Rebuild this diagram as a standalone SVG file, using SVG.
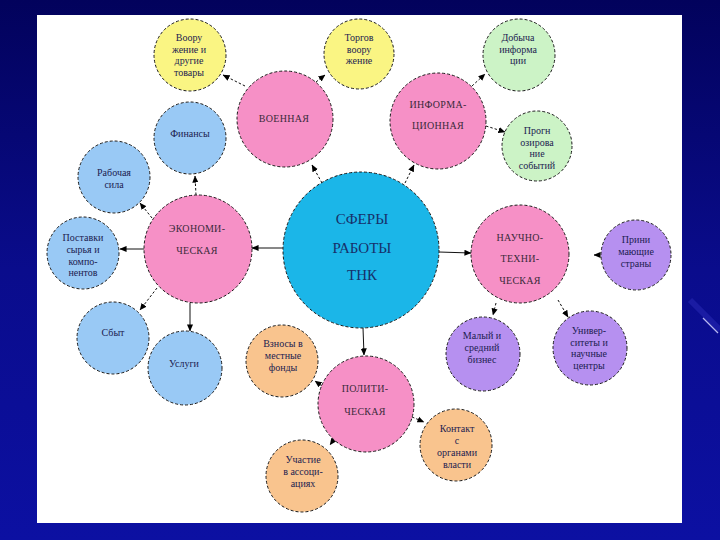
<svg xmlns="http://www.w3.org/2000/svg" width="720" height="540" viewBox="0 0 720 540">
<defs>
<linearGradient id="bg" x1="0" y1="0" x2="0" y2="1">
<stop offset="0" stop-color="#02025c"/>
<stop offset="0.5" stop-color="#0a0c8c"/>
<stop offset="1" stop-color="#0c10a2"/>
</linearGradient>
<marker id="ah" viewBox="0 0 8 8" refX="7.5" refY="4" markerWidth="7" markerHeight="7" markerUnits="userSpaceOnUse" orient="auto">
<path d="M0,0.5 L8,4 L0,7.5 Z" fill="#000"/>
</marker>
<style>
.n{stroke:#1a1a1a;stroke-width:1;stroke-dasharray:3 2}
.pink{fill:#f690c6}.yel{fill:#faf583}.grn{fill:#ccf3c6}.blu{fill:#99c9f5}.org{fill:#f9c48e}.pur{fill:#b690f0}.cen{fill:#1bb6e8}
.t{font-family:"Liberation Serif","Times New Roman",serif;font-size:10px;fill:#1c1c50;text-anchor:middle}
.h{font-family:"Liberation Serif","Times New Roman",serif;font-size:10px;fill:#3a2a3a;text-anchor:middle;letter-spacing:0.3px}
.c{font-family:"Liberation Serif","Times New Roman",serif;font-size:15px;fill:#17306a;text-anchor:middle}
.e{fill:none;stroke:#111;stroke-width:1;marker-end:url(#ah)}
.d{stroke-dasharray:2.5 2}
</style>
</defs>
<rect x="0" y="0" width="720" height="540" fill="url(#bg)"/>
<path d="M690,300 L720,330" stroke="#3a3ac8" stroke-width="6" opacity="0.35" fill="none"/>
<line x1="703" y1="318" x2="718" y2="333" stroke="#b8b8f0" stroke-width="1.2"/>
<rect x="37" y="15" width="645" height="508" fill="#ffffff"/>

<g id="connectors">
<path class="e d" d="M322,183 L312,165"/>
<path class="e d" d="M405,183 L414,165"/>
<path class="e d" d="M245,86 L223,75"/>
<path class="e d" d="M316,82 L325,75"/>
<path class="e d" d="M472,86 L485,74"/>
<path class="e d" d="M486,126 L505,132"/>
<path class="e d" d="M196,195 L195,176"/>
<path class="e d" d="M152,218 L140,203"/>
<path class="e d" d="M157,288 L140,310"/>
<path class="e d" d="M322,386 L315,381"/>
<path class="e d" d="M412,417 L424,422"/>
<path class="e d" d="M335,438 L330,445"/>
<path class="e d" d="M496,303 L493,315"/>
<path class="e d" d="M558,300 L568,317"/>
<path class="e d" d="M600,255 L594,255"/>
<path class="e" d="M283,248 L252,248"/>
<path class="e" d="M439,252 L471,253"/>
<path class="e" d="M363,328 L364,355"/>
<path class="e" d="M144,249 L120,249"/>
<path class="e" d="M190,303 L190,331"/>
</g>

<g id="center"><circle class="n cen" cx="361" cy="250" r="78"/>
<text class="c" x="362" y="224">СФЕРЫ</text><text class="c" x="362" y="253">РАБОТЫ</text><text class="c" x="362" y="280">ТНК</text></g>

<g id="voen"><circle class="n pink" cx="285" cy="119" r="48"/><text class="h" x="284" y="122">ВОЕННАЯ</text></g>
<g id="inform"><circle class="n pink" cx="438" cy="121" r="48"/><text class="h" x="438" y="108">ИНФОРМА-</text><text class="h" x="438" y="129">ЦИОННАЯ</text></g>
<g id="econ"><circle class="n pink" cx="198" cy="249" r="54"/><text class="h" x="197" y="232">ЭКОНОМИ-</text><text class="h" x="197" y="254">ЧЕСКАЯ</text></g>
<g id="nauch"><circle class="n pink" cx="520" cy="254" r="49"/><text class="h" x="520" y="241">НАУЧНО-</text><text class="h" x="520" y="262">ТЕХНИ-</text><text class="h" x="520" y="284">ЧЕСКАЯ</text></g>
<g id="polit"><circle class="n pink" cx="366" cy="404" r="48"/><text class="h" x="365" y="392">ПОЛИТИ-</text><text class="h" x="365" y="415">ЧЕСКАЯ</text></g>

<g id="y1"><circle class="n yel" cx="190" cy="55" r="36"/><text class="t" x="189" y="41">Воору</text><text class="t" x="189" y="52.5">жение и</text><text class="t" x="189" y="64">другие</text><text class="t" x="189" y="75.5">товары</text></g>
<g id="y2"><circle class="n yel" cx="359" cy="54" r="35"/><text class="t" x="359" y="41">Торгов</text><text class="t" x="359" y="52.5">воору</text><text class="t" x="359" y="64">жение</text></g>
<g id="g1"><circle class="n grn" cx="519" cy="55" r="36"/><text class="t" x="518" y="41">Добыча</text><text class="t" x="518" y="52.5">информа</text><text class="t" x="518" y="64">ции</text></g>
<g id="g2"><circle class="n grn" cx="537" cy="146" r="35"/><text class="t" x="537" y="134">Прогн</text><text class="t" x="537" y="145.5">озирова</text><text class="t" x="537" y="157">ние</text><text class="t" x="537" y="168.5">событий</text></g>

<g id="fin"><circle class="n blu" cx="190" cy="138" r="36"/><text class="t" x="190" y="137">Финансы</text></g>
<g id="rab"><circle class="n blu" cx="114" cy="177" r="36"/><text class="t" x="114" y="176">Рабочая</text><text class="t" x="114" y="187.5">сила</text></g>
<g id="post"><circle class="n blu" cx="83" cy="253" r="36"/><text class="t" x="83" y="241">Поставки</text><text class="t" x="83" y="252.7">сырья и</text><text class="t" x="83" y="264.5">компо-</text><text class="t" x="83" y="276">нентов</text></g>
<g id="sbyt"><circle class="n blu" cx="113" cy="338" r="36"/><text class="t" x="113" y="336">Сбыт</text></g>
<g id="usl"><circle class="n blu" cx="185" cy="368" r="37"/><text class="t" x="184" y="367">Услуги</text></g>

<g id="vzn"><circle class="n org" cx="282" cy="361" r="36"/><text class="t" x="283" y="347">Взносы в</text><text class="t" x="283" y="359">местные</text><text class="t" x="283" y="371">фонды</text></g>
<g id="uch"><circle class="n org" cx="302" cy="476" r="36"/><text class="t" x="303" y="462.5">Участие</text><text class="t" x="303" y="474.5">в ассоци-</text><text class="t" x="303" y="486.5">ациях</text></g>
<g id="kont"><circle class="n org" cx="456" cy="445" r="36"/><text class="t" x="457" y="432">Контакт</text><text class="t" x="457" y="444">с</text><text class="t" x="457" y="456">органами</text><text class="t" x="457" y="468">власти</text></g>

<g id="maly"><circle class="n pur" cx="483" cy="354" r="37"/><text class="t" x="482" y="339">Малый и</text><text class="t" x="482" y="351">средний</text><text class="t" x="482" y="363">бизнес</text></g>
<g id="univ"><circle class="n pur" cx="590" cy="348" r="37"/><text class="t" x="589" y="334">Универ-</text><text class="t" x="589" y="345.5">ситеты и</text><text class="t" x="589" y="357">научные</text><text class="t" x="589" y="368.5">центры</text></g>
<g id="prin"><circle class="n pur" cx="636" cy="255" r="35"/><text class="t" x="636" y="243">Прини</text><text class="t" x="636" y="255">мающие</text><text class="t" x="636" y="267">страны</text></g>
</svg>
